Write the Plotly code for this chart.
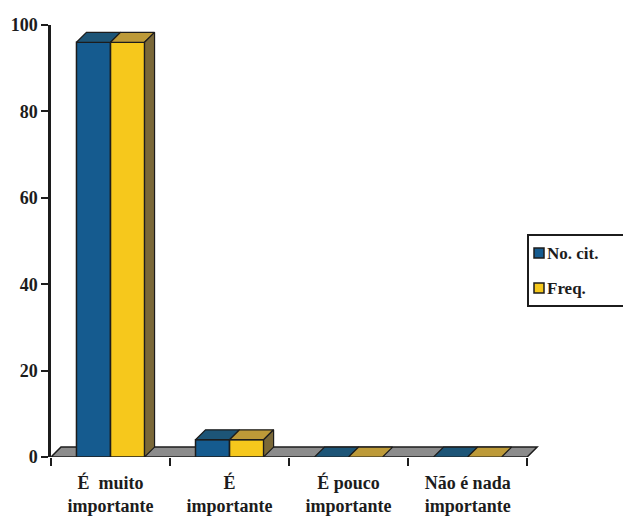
import plotly.graph_objects as go

# ---- data -------------------------------------------------------------
categories = ["É  muito<br>importante", "É<br>importante",
              "É pouco<br>importante", "Não é nada<br>importante"]
no_cit = [96, 4, 0, 0]
freq = [96, 4, 0, 0]
series_names = ["No. cit.", "Freq."]
y_ticks = [0, 20, 40, 60, 80, 100]

# ---- style ------------------------------------------------------------
W, H = 623, 519
L, R, T, B = 51, 78, 25, 62
FONT = "Liberation Serif"
INK = "#1c1c1c"
BLUE, BLUE_TOP = "#155b8f", "#1d5577"
YELLOW, YELLOW_TOP = "#f6c81c", "#bd9a38"
SIDE = "#7a6838"
FLOOR = "#8c8c8c"

BAR_W = 0.286          # width of one bar in category units
DX, DY = 0.084, 2.3    # depth offset of the 3-D faces (x units, y units)
X_MIN, X_MAX = -0.5, 3.65


def bold(s):
    return "<b>" + s + "</b>"


idx = list(range(len(categories)))

fig = go.Figure()

# front faces
for vals, name, col, off in [(no_cit, series_names[0], BLUE, -BAR_W),
                             (freq, series_names[1], YELLOW, 0.0)]:
    fig.add_trace(go.Bar(
        x=idx, y=vals, name=name, width=BAR_W, offset=off,
        marker=dict(color=col, line=dict(color=INK, width=1.5)),
        showlegend=False, hoverinfo="skip"))


def face(xs, ys, col):
    fig.add_trace(go.Scatter(
        x=xs + [xs[0]], y=ys + [ys[0]], mode="lines", fill="toself",
        fillcolor=col, line=dict(color=INK, width=1.2),
        showlegend=False, hoverinfo="skip"))


# top faces and the right-hand side face of each group
for i in idx:
    for vals, col, off in [(no_cit, BLUE_TOP, -BAR_W), (freq, YELLOW_TOP, 0.0)]:
        v = vals[i]
        x0, x1 = i + off, i + off + BAR_W
        face([x0, x0 + DX, x1 + DX, x1], [v, v + DY, v + DY, v], col)
    v = freq[i]
    if v > 0:
        x1 = i + BAR_W
        face([x1, x1 + DX, x1 + DX, x1], [0, DY, v + DY, v], SIDE)

# floor strip behind the bars
n = len(categories)
floor_path = (f"M {-0.5},0 L {n - 0.5},0 L {n - 0.5 + DX},{DY} "
              f"L {-0.5 + DX},{DY} Z")
fig.add_shape(type="path", path=floor_path, xref="x", yref="y",
              fillcolor=FLOOR, line=dict(color=INK, width=1.5), layer="below")


# ---- legend drawn in pixel positions ----------------------------------
def px(x):
    return (x - L) / (W - L - R)


def py(y):
    return (H - B - y) / (H - T - B)


fig.add_shape(type="rect", xref="paper", yref="paper",
              x0=px(528), x1=px(650), y0=py(306), y1=py(235),
              line=dict(color=INK, width=2), fillcolor="white")
for name, col, yc in [(series_names[0], BLUE, 253), (series_names[1], YELLOW, 288)]:
    fig.add_shape(type="rect", xref="paper", yref="paper",
                  x0=px(534), x1=px(544), y0=py(yc + 5), y1=py(yc - 5),
                  line=dict(color=INK, width=1.5), fillcolor=col)
    fig.add_annotation(x=px(545), y=py(yc), xref="paper", yref="paper",
                       text=bold(name), showarrow=False, xanchor="left",
                       yanchor="middle",
                       font=dict(family=FONT, size=17, color=INK))

fig.update_layout(
    width=W, height=H,
    margin=dict(l=L, r=R, t=T, b=B, autoexpand=False),
    paper_bgcolor="white", plot_bgcolor="white",
    barmode="overlay", showlegend=False,
    font=dict(family=FONT, color=INK, size=18),
)
fig.update_xaxes(
    automargin=False,
    range=[X_MIN, X_MAX], showgrid=False, zeroline=False, showline=False,
    tickvals=idx, ticktext=[bold(c) for c in categories],
    ticks="outside", ticklen=9, tickcolor="rgba(0,0,0,0)",
    tickfont=dict(family=FONT, size=18, color=INK),
    minor=dict(tickvals=[i - 0.5 for i in range(n + 1)], ticks="outside",
               ticklen=8, tickwidth=2, tickcolor=INK, showgrid=False),
)
fig.update_yaxes(
    automargin=False,
    range=[0, 100], tickvals=y_ticks, ticktext=[bold(str(t)) for t in y_ticks],
    showgrid=False, zeroline=False,
    showline=True, linecolor=INK, linewidth=2.5,
    ticks="outside", ticklen=7, tickwidth=2, tickcolor=INK,
    tickfont=dict(family=FONT, size=18, color=INK),
)

fig.write_html("out.html")
